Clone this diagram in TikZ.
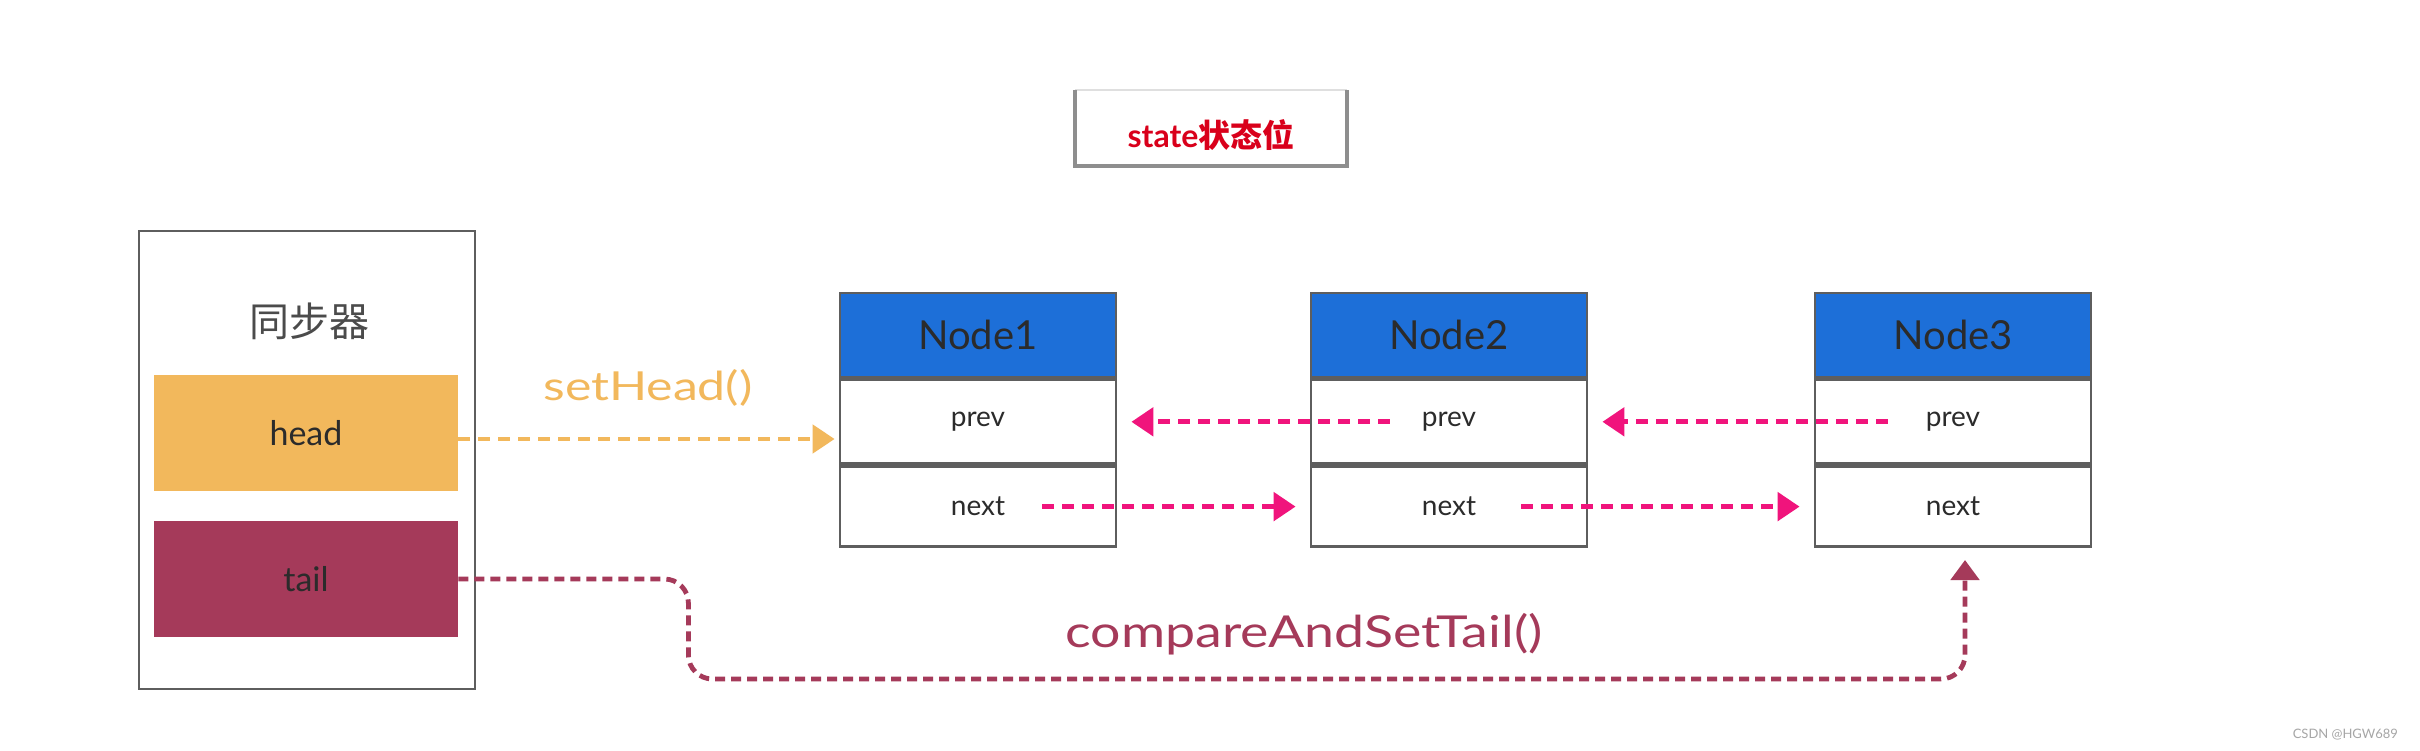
\documentclass[tikz,border=0pt]{standalone}
\usepackage{fontspec}
\setmainfont{Lato}
\newfontfamily\cjk{Noto Sans CJK SC}
\newfontfamily\cjkb{Noto Sans CJK SC Bold}
\usetikzlibrary{arrows.meta,calc}
\definecolor{frame}{HTML}{5E5E5E}
\definecolor{hdblue}{HTML}{1D6FD8}
\definecolor{headorange}{HTML}{F2B85C}
\definecolor{tailred}{HTML}{A53A5A}
\definecolor{pinkar}{HTML}{F0147C}
\definecolor{statered}{HTML}{D9001B}
\definecolor{inkdark}{HTML}{2B2B2B}
\tikzset{
  box/.style={draw=frame, line width=1.4pt, inner sep=0pt},
  hdr/.style={box, fill=hdblue, minimum width=138pt, minimum height=42pt, text=inkdark, font=\fontsize{20}{22}\selectfont},
  row/.style={box, fill=white, minimum width=138pt, minimum height=42pt, text=inkdark, font=\fontsize{14}{16}\selectfont},
  field/.style={inner sep=0pt, minimum width=152pt, minimum height=58pt, font=\fontsize{17}{20}\selectfont},
  pinkarrow/.style={draw=pinkar, line width=2.6pt, dash pattern=on 6pt off 4pt, -{Triangle[length=11pt,width=14pt]}},
  orangearrow/.style={draw=headorange, line width=2.4pt, dash pattern=on 6pt off 4pt, -{Triangle[length=11pt,width=14pt]}},
  tailarrow/.style={draw=tailred, line width=2.4pt, dash pattern=on 5pt off 3pt, -{Triangle[length=10pt,width=14pt]}},
}
\begin{document}
\begin{tikzpicture}[x=0.5pt,y=-0.5pt]
\path[use as bounding box, fill=white] (0,0) rectangle (2420,750);

% state box
\coordinate (stl) at (1075,90);
\coordinate (str) at (1347,90);
\coordinate (sbl) at (1075,166);
\coordinate (sbr) at (1347,166);
\draw[gray!25, line width=0.8pt] (stl) -- (str);
\draw[frame!70, line width=1.6pt] (stl) -- (sbl) -- (sbr) -- (str);
\node[text=statered, font=\bfseries\fontsize{16}{18}\selectfont] (state) at (1211,135) {state{\cjkb 状态位}};

% synchronizer
\node[box, minimum width=168pt, minimum height=229pt] (sync) at (307,460) {};
\node[font=\cjk\fontsize{20}{22}\selectfont, text=inkdark!85] (synclabel) at (309,321) {同步器};
\node[field, fill=headorange, text=inkdark] (head) at (306,433) {head};
\node[field, fill=tailred, text=inkdark] (tail) at (306,579) {tail};

% Node1
\node[hdr] (n1h) at (978,335) {Node1};
\node[row, anchor=north] (n1prev) at (n1h.south) {prev};
\node[row, anchor=north, minimum height=40pt] (n1next) at (n1prev.south) {next};
% Node2
\node[hdr] (n2h) at (1449,335) {Node2};
\node[row, anchor=north] (n2prev) at (n2h.south) {prev};
\node[row, anchor=north, minimum height=40pt] (n2next) at (n2prev.south) {next};
% Node3
\node[hdr] (n3h) at (1953,335) {Node3};
\node[row, anchor=north] (n3prev) at (n3h.south) {prev};
\node[row, anchor=north, minimum height=40pt] (n3next) at (n3prev.south) {next};

% setHead arrow
\draw[orangearrow] ($(head.east)+(0,6)$) -- ($(head.east -| n1prev.west)+(-4,6)$);
\node[text=headorange, font=\fontsize{20}{22}\selectfont] (sethead) at (648,388) {\scalebox{1.25}[1]{setHead()}};

% prev arrows
\draw[pinkarrow] ($(n2prev.west)+(80,0)$) -- ($(n1prev.east)+(14,0)$);
\draw[pinkarrow] ($(n3prev.west)+(74,0)$) -- ($(n2prev.east)+(14,0)$);
% next arrows
\draw[pinkarrow] ($(n1next.center)+(64,0)$) -- ($(n2next.west)+(-14,0)$);
\draw[pinkarrow] ($(n2next.center)+(72,0)$) -- ($(n3next.west)+(-14,0)$);

% compareAndSetTail
\coordinate (t3) at ($(n3next.south)+(12,12)$);
\draw[tailarrow, rounded corners=12pt] (tail.east) -- ++(230,0) -- ++(0,100) -| (t3);
\node[text=tailred, font=\fontsize{22}{26}\selectfont] (cas) at (1304,634) {\scalebox{1.22}[1]{compareAndSetTail()}};

% watermark
\node[text=gray!70, font=\fontsize{6.5}{8}\selectfont, anchor=east] (wm) at (2405,735) {CSDN @HGW689};
\end{tikzpicture}
\end{document}
